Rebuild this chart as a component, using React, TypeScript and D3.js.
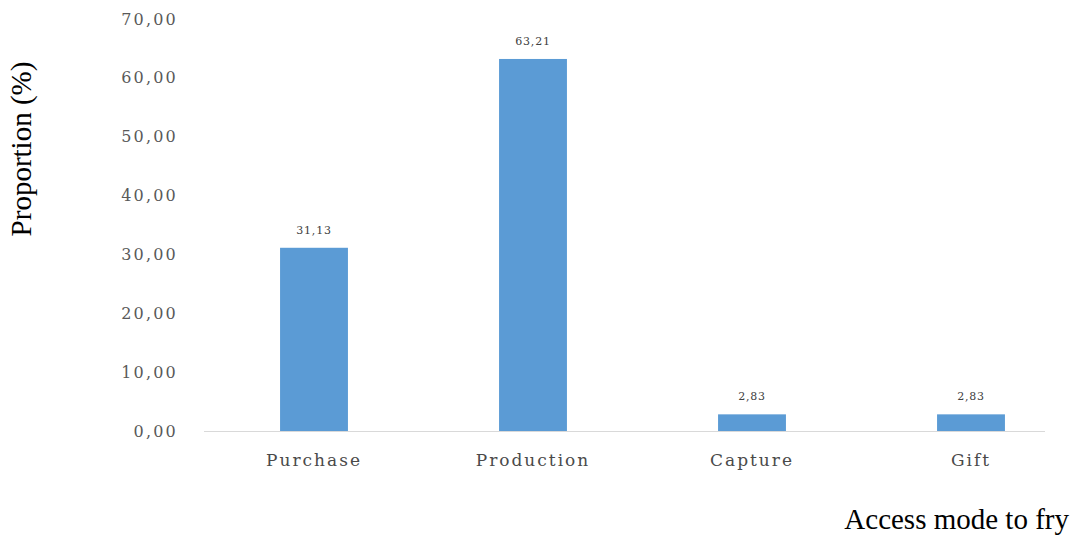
import React from "react";
import * as d3 from "d3";

const categories = ["Purchase", "Production", "Capture", "Gift"];
const values = [31.13, 63.21, 2.83, 2.83];
const valueLabels = ["31,13", "63,21", "2,83", "2,83"];
const yTicks = [0, 10, 20, 30, 40, 50, 60, 70];

const W = 1075;
const H = 536;

export default function App() {
  const y = d3.scaleLinear().domain([0, 70]).range([431, 19]);
  const x = d3
    .scaleBand<string>()
    .domain(categories)
    .range([204.5, 1080.5])
    .paddingInner(0.69)
    .paddingOuter(0.345);
  const fmt = (v: number) => v.toFixed(2).replace(".", ",");
  const tickFont = "'DejaVu Serif', serif";
  return (
    <div style={{ position: "absolute", left: 0, top: 0 }}>
      <svg width={W} height={H} style={{ display: "block", background: "#fff" }}>
        {yTicks.map((t) => (
          <text
            key={t}
            x={178}
            y={y(t)}
            dy="0.35em"
            textAnchor="end"
            fontFamily={tickFont}
            fontSize={16}
            letterSpacing={2.2}
            fill="#595959"
          >
            {fmt(t)}
          </text>
        ))}
        {categories.map((c, i) => (
          <g key={c}>
            <rect
              x={x(c)}
              y={y(values[i])}
              width={x.bandwidth()}
              height={y(0) - y(values[i])}
              fill="#5b9bd5"
            />
            <text
              x={(x(c) as number) + x.bandwidth() / 2}
              y={y(values[i]) - 14}
              textAnchor="middle"
              fontFamily={tickFont}
              fontSize={11}
              letterSpacing={0.8}
              fill="#404040"
            >
              {valueLabels[i]}
            </text>
            <text
              x={(x(c) as number) + x.bandwidth() / 2}
              y={466}
              textAnchor="middle"
              fontFamily={tickFont}
              fontSize={17}
              letterSpacing={2}
              fill="#4a4a4a"
            >
              {c}
            </text>
          </g>
        ))}
        <line x1={204} x2={1045} y1={431.5} y2={431.5} stroke="#d9d9d9" strokeWidth={1} />
        <text
          transform="translate(31,149) rotate(-90)"
          textAnchor="middle"
          fontFamily="'Liberation Serif', 'Times New Roman', serif"
          fontSize={29}
          fill="#000"
        >
          Proportion (%)
        </text>
        <text
          x={1069}
          y={529}
          textAnchor="end"
          fontFamily="'Liberation Serif', 'Times New Roman', serif"
          fontSize={29}
          fill="#000"
        >
          Access mode to fry
        </text>
      </svg>
    </div>
  );
}
